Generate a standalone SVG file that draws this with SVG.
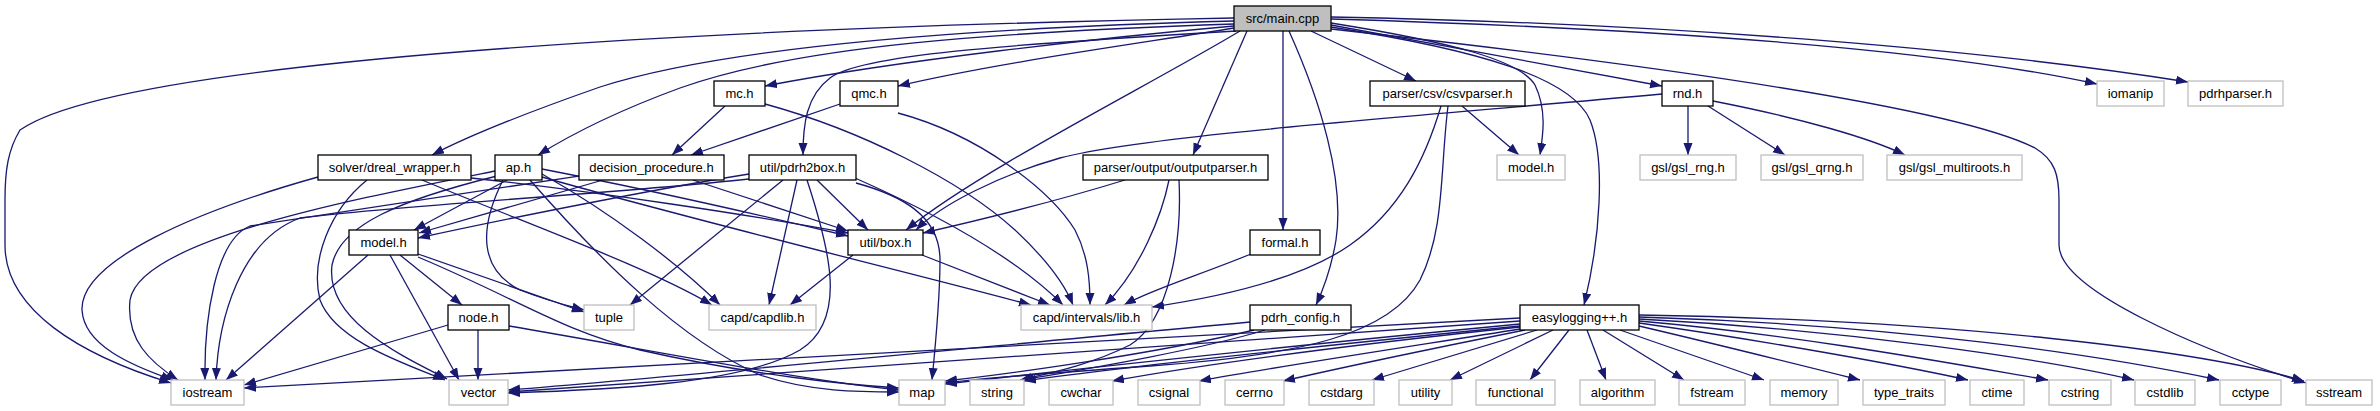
<svg xmlns="http://www.w3.org/2000/svg" width="2380" height="411" viewBox="0 0 2380 411">
<defs>
<style>
rect{stroke-width:1.3}
.d rect{fill:#fff;stroke:#000}
.u rect{fill:#fff;stroke:#bfbfbf}
.r rect{fill:#bfbfbf;stroke:#000}
text{font-family:"Liberation Sans",Arial,sans-serif;font-size:13px;text-anchor:middle;fill:#000}
#edges path{fill:none;stroke:#191970;stroke-width:1.3;marker-end:url(#a)}
</style>
<marker id="a" markerUnits="userSpaceOnUse" markerWidth="13" markerHeight="10" refX="12" refY="4.5" orient="auto"><path d="M0,0 L12,4.5 L0,9 z" fill="#191970"/></marker>
</defs>
<rect width="2380" height="411" fill="#fff"/>
<g id="edges">
<path d="M1234,18 C700,28 120,60 20,130 C8,150 5,170 5,200 L5,245 C5,310 80,355 171,383"/>
<path d="M1234,21 C900,30 700,55 600,87 C540,108 470,135 432,155"/>
<path d="M1234,24 C1000,32 800,45 680,88 C620,110 575,132 538,155"/>
<path d="M1234,26 C1100,38 900,60 765,86"/>
<path d="M1234,28 C1150,42 1000,62 898,86"/>
<path d="M1236,31 C1000,45 860,55 830,78 C806,96 803,125 803,155"/>
<path d="M1240,31 C1150,85 980,170 906,230"/>
<path d="M1247,31 L1193,155"/>
<path d="M1283,31 L1283,230"/>
<path d="M1289,31 C1320,100 1345,180 1336,240 C1331,270 1323,290 1316,305"/>
<path d="M1311,31 L1416,81"/>
<path d="M1331,23 C1450,42 1520,60 1535,85 C1547,110 1543,135 1540,155"/>
<path d="M1331,27 C1480,50 1572,78 1590,120 C1606,160 1600,240 1584,305"/>
<path d="M1331,25 L1662,86"/>
<path d="M1331,19 C1700,30 1950,52 2097,84"/>
<path d="M1331,17 C1700,24 2000,52 2188,82"/>
<path d="M1331,29 C1700,70 1960,110 2035,148 C2055,160 2059,175 2059,200 L2059,245 C2059,290 2200,350 2306,383"/>
<path d="M1662,94 C1400,118 1150,135 1060,158 C1000,175 940,205 916,230"/>
<path d="M1688,106 L1688,155"/>
<path d="M1708,106 L1785,155"/>
<path d="M1713,101 C1800,118 1870,138 1905,155"/>
<path d="M1462,106 L1519,155"/>
<path d="M1441,106 C1425,160 1400,210 1350,245 C1300,280 1220,297 1152,307"/>
<path d="M1448,106 C1440,170 1445,230 1420,280 C1390,335 1300,355 1150,366 C1050,373 980,378 945,383"/>
<path d="M1125,180 C1060,200 980,220 923,233"/>
<path d="M1169,180 C1162,215 1140,270 1105,305"/>
<path d="M1179,180 C1182,240 1170,320 1130,345 C1090,365 1050,373 1020,380"/>
<path d="M725,106 L672,155"/>
<path d="M765,104 C860,130 960,180 1015,230 C1045,258 1065,285 1073,305"/>
<path d="M840,104 L691,155"/>
<path d="M898,113 C980,135 1050,190 1075,230 C1088,255 1090,280 1090,305"/>
<path d="M603,180 L419,233"/>
<path d="M693,180 L848,231"/>
<path d="M579,176 C450,195 320,215 250,226 C215,240 204,320 205,380"/>
<path d="M507,180 L414,230"/>
<path d="M503,180 C478,230 480,270 520,290 C545,300 565,305 584,310"/>
<path d="M497,176 C400,200 340,225 332,265 C325,320 400,355 447,379"/>
<path d="M495,171 C350,200 140,240 130,300 C126,340 150,362 178,380"/>
<path d="M530,180 C600,260 680,340 760,375 C810,392 860,392 899,392"/>
<path d="M542,174 C610,212 680,265 720,305"/>
<path d="M542,169 C650,190 760,215 848,236"/>
<path d="M542,177 C700,222 900,270 1031,305"/>
<path d="M318,177 C200,210 80,260 82,310 C84,345 130,365 173,380"/>
<path d="M367,180 C330,210 310,260 320,300 C335,340 400,362 445,380"/>
<path d="M422,180 C530,225 650,268 712,305"/>
<path d="M471,178 C600,192 750,215 848,233"/>
<path d="M817,180 L868,230"/>
<path d="M797,180 L769,305"/>
<path d="M807,180 C830,250 848,320 800,350 C740,385 600,390 508,393"/>
<path d="M783,180 L630,305"/>
<path d="M855,178 C950,220 1020,262 1063,305"/>
<path d="M856,183 C900,195 940,215 940,260 C940,300 935,350 932,380"/>
<path d="M749,179 C600,195 400,205 300,218 C240,240 218,320 216,380"/>
<path d="M749,174 C650,190 500,220 418,238"/>
<path d="M400,255 L462,305"/>
<path d="M390,255 L459,380"/>
<path d="M418,254 L584,312"/>
<path d="M418,257 C520,300 560,330 640,350 C750,375 850,385 899,388"/>
<path d="M368,255 L226,380"/>
<path d="M448,325 L244,385"/>
<path d="M478,330 L478,380"/>
<path d="M509,326 C650,350 800,380 899,390"/>
<path d="M853,255 L790,305"/>
<path d="M922,255 L1050,305"/>
<path d="M1251,254 C1200,275 1150,290 1124,305"/>
<path d="M1250,322 C1000,345 700,375 508,390"/>
<path d="M1254,330 C1150,355 1000,375 945,381"/>
<path d="M1265,330 C1200,350 1080,370 1022,380"/>
<path d="M1520,318 L244,388"/>
<path d="M1520,321 L508,392"/>
<path d="M1520,324 C1300,345 1050,372 945,384"/>
<path d="M1520,326 C1300,348 1100,370 1024,381"/>
<path d="M1520,327 C1350,345 1200,365 1112,381"/>
<path d="M1520,329 C1420,345 1280,366 1199,381"/>
<path d="M1525,330 C1450,345 1340,368 1283,381"/>
<path d="M1537,330 L1372,380"/>
<path d="M1553,330 L1450,380"/>
<path d="M1569,330 L1530,380"/>
<path d="M1587,330 L1606,380"/>
<path d="M1603,330 L1684,380"/>
<path d="M1620,330 L1764,380"/>
<path d="M1639,326 C1720,345 1800,365 1860,380"/>
<path d="M1639,323 C1760,340 1900,365 1968,380"/>
<path d="M1639,321 C1800,335 1960,365 2048,380"/>
<path d="M1639,319 C1850,330 2050,360 2134,380"/>
<path d="M1639,317 C1900,325 2100,355 2219,380"/>
<path d="M1639,315 C1950,320 2200,350 2304,381"/>
</g>
<g id="n-main" class="r"><rect x="1234" y="6" width="97" height="25"/><text x="1282.5" y="23">src/main.cpp</text></g>
<g id="n-mc" class="d"><rect x="714" y="81" width="51" height="25"/><text x="739.5" y="98">mc.h</text></g>
<g id="n-qmc" class="d"><rect x="840" y="81" width="58" height="25"/><text x="869" y="98">qmc.h</text></g>
<g id="n-csvparser" class="d"><rect x="1370" y="81" width="155" height="25"/><text x="1447.5" y="98">parser/csv/csvparser.h</text></g>
<g id="n-rnd" class="d"><rect x="1662" y="81" width="51" height="25"/><text x="1687.5" y="98">rnd.h</text></g>
<g id="n-iomanip" class="u"><rect x="2097" y="81" width="67" height="25"/><text x="2130.5" y="98">iomanip</text></g>
<g id="n-pdrhparser" class="u"><rect x="2188" y="81" width="95" height="25"/><text x="2235.5" y="98">pdrhparser.h</text></g>
<g id="n-solver" class="d"><rect x="318" y="155" width="153" height="25"/><text x="394.5" y="172">solver/dreal_wrapper.h</text></g>
<g id="n-ap" class="d"><rect x="495" y="155" width="47" height="25"/><text x="518.5" y="172">ap.h</text></g>
<g id="n-decision" class="d"><rect x="579" y="155" width="145" height="25"/><text x="651.5" y="172">decision_procedure.h</text></g>
<g id="n-pdrh2box" class="d"><rect x="749" y="155" width="107" height="25"/><text x="802.5" y="172">util/pdrh2box.h</text></g>
<g id="n-outputparser" class="d"><rect x="1083" y="155" width="185" height="25"/><text x="1175.5" y="172">parser/output/outputparser.h</text></g>
<g id="n-model-ext" class="u"><rect x="1497" y="155" width="68" height="25"/><text x="1531" y="172">model.h</text></g>
<g id="n-gsl-rng" class="u"><rect x="1640" y="155" width="96" height="25"/><text x="1688" y="172">gsl/gsl_rng.h</text></g>
<g id="n-gsl-qrng" class="u"><rect x="1761" y="155" width="102" height="25"/><text x="1812" y="172">gsl/gsl_qrng.h</text></g>
<g id="n-gsl-multiroots" class="u"><rect x="1887" y="155" width="135" height="25"/><text x="1954.5" y="172">gsl/gsl_multiroots.h</text></g>
<g id="n-model" class="d"><rect x="349" y="230" width="69" height="25"/><text x="383.5" y="247">model.h</text></g>
<g id="n-box" class="d"><rect x="848" y="230" width="75" height="25"/><text x="885.5" y="247">util/box.h</text></g>
<g id="n-formal" class="d"><rect x="1250" y="230" width="70" height="25"/><text x="1285" y="247">formal.h</text></g>
<g id="n-node" class="d"><rect x="448" y="305" width="61" height="25"/><text x="478.5" y="322">node.h</text></g>
<g id="n-tuple" class="u"><rect x="584" y="305" width="50" height="25"/><text x="609" y="322">tuple</text></g>
<g id="n-capdlib" class="u"><rect x="709" y="305" width="107" height="25"/><text x="762.5" y="322">capd/capdlib.h</text></g>
<g id="n-intervals" class="u"><rect x="1021" y="305" width="131" height="25"/><text x="1086.5" y="322">capd/intervals/lib.h</text></g>
<g id="n-pdrh-config" class="d"><rect x="1250" y="305" width="101" height="25"/><text x="1300.5" y="322">pdrh_config.h</text></g>
<g id="n-easylogging" class="d"><rect x="1520" y="305" width="119" height="25"/><text x="1579.5" y="322">easylogging++.h</text></g>
<g id="n-iostream" class="u"><rect x="171" y="380" width="73" height="25"/><text x="207.5" y="397">iostream</text></g>
<g id="n-vector" class="u"><rect x="449" y="380" width="59" height="25"/><text x="478.5" y="397">vector</text></g>
<g id="n-map" class="u"><rect x="899" y="380" width="46" height="25"/><text x="922" y="397">map</text></g>
<g id="n-string" class="u"><rect x="970" y="380" width="54" height="25"/><text x="997" y="397">string</text></g>
<g id="n-cwchar" class="u"><rect x="1049" y="380" width="64" height="25"/><text x="1081" y="397">cwchar</text></g>
<g id="n-csignal" class="u"><rect x="1138" y="380" width="62" height="25"/><text x="1169" y="397">csignal</text></g>
<g id="n-cerrno" class="u"><rect x="1225" y="380" width="59" height="25"/><text x="1254.5" y="397">cerrno</text></g>
<g id="n-cstdarg" class="u"><rect x="1309" y="380" width="65" height="25"/><text x="1341.5" y="397">cstdarg</text></g>
<g id="n-utility" class="u"><rect x="1399" y="380" width="53" height="25"/><text x="1425.5" y="397">utility</text></g>
<g id="n-functional" class="u"><rect x="1476" y="380" width="79" height="25"/><text x="1515.5" y="397">functional</text></g>
<g id="n-algorithm" class="u"><rect x="1580" y="380" width="75" height="25"/><text x="1617.5" y="397">algorithm</text></g>
<g id="n-fstream" class="u"><rect x="1679" y="380" width="66" height="25"/><text x="1712" y="397">fstream</text></g>
<g id="n-memory" class="u"><rect x="1770" y="380" width="68" height="25"/><text x="1804" y="397">memory</text></g>
<g id="n-type-traits" class="u"><rect x="1863" y="380" width="82" height="25"/><text x="1904" y="397">type_traits</text></g>
<g id="n-ctime" class="u"><rect x="1970" y="380" width="54" height="25"/><text x="1997" y="397">ctime</text></g>
<g id="n-cstring" class="u"><rect x="2049" y="380" width="62" height="25"/><text x="2080" y="397">cstring</text></g>
<g id="n-cstdlib" class="u"><rect x="2135" y="380" width="60" height="25"/><text x="2165" y="397">cstdlib</text></g>
<g id="n-cctype" class="u"><rect x="2220" y="380" width="61" height="25"/><text x="2250.5" y="397">cctype</text></g>
<g id="n-sstream" class="u"><rect x="2306" y="380" width="66" height="25"/><text x="2339" y="397">sstream</text></g>
</svg>
